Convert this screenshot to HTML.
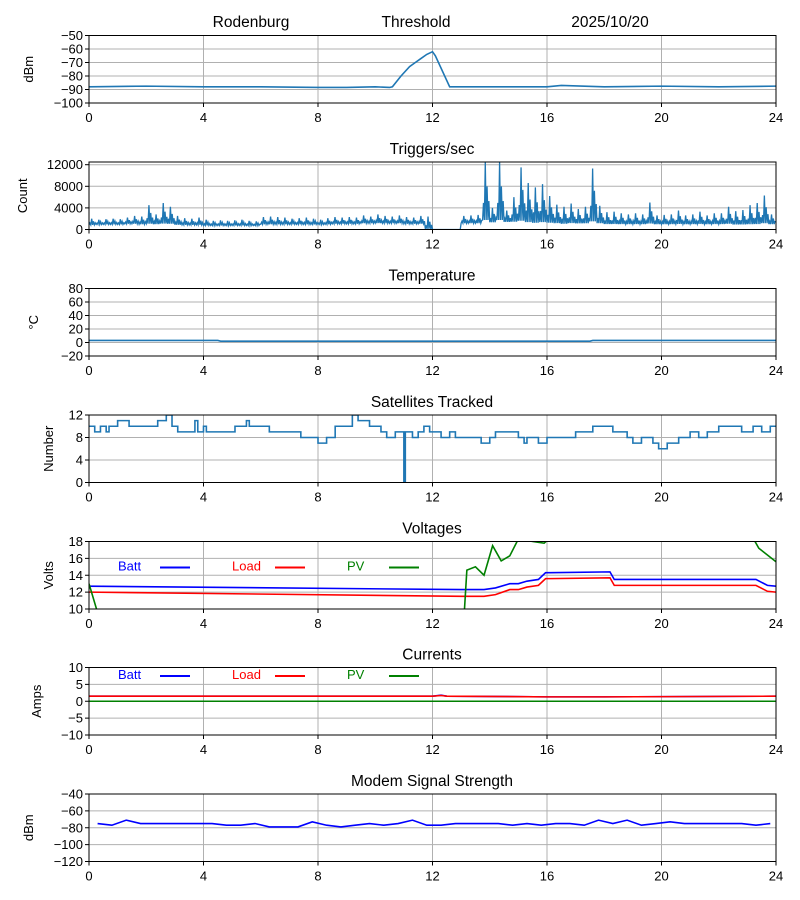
<!DOCTYPE html>
<html><head><meta charset="utf-8">
<style>
body{margin:0;background:#fff;}
svg{display:block;font-family:"Liberation Sans",sans-serif;}
</style></head>
<body>
<svg id="c" width="800" height="900"></svg>
<script>
// ---- data ----
const threshT=[0,2,4,6,8,9,10,10.5,10.6,10.9,11.2,11.4,11.6,11.8,12.0,12.1,12.6,14,16,16.5,18,20,22,24];
const threshV=[-88,-87.5,-88,-88,-88.5,-88.5,-88,-88.5,-88,-80,-73,-70,-67,-64,-62,-65,-88,-88,-88,-87,-88,-87.5,-88,-87.5];
const trigHi=[2000,1800,1900,2000,1900,2200,2500,2400,4500,2800,4900,4200,2500,2100,2000,2200,1800,1600,1700,1600,1700,1800,1600,1500,2300,2400,2300,2200,2000,2100,2200,2000,1800,2100,2300,2200,2300,2200,2600,2400,2800,2500,2400,2600,2300,2200,2500,2400,0,0,0,0,2500,2600,2700,12500,4000,12500,3500,6000,11500,8600,7800,8400,6200,4600,4200,4800,3800,4200,11300,4400,3200,3300,3000,2800,3000,2800,5000,2600,2700,2800,3500,2600,2800,3300,2600,3000,3000,4200,3400,3600,4500,4900,6300,2800];
const trigLo=[800,900,900,900,900,1000,1000,900,900,900,900,900,800,800,800,800,700,700,700,700,700,700,700,700,900,900,900,900,900,900,900,900,900,900,1000,1000,1000,1000,1100,1100,1100,1100,1100,1100,1000,1000,1000,0,0,0,0,0,1100,1100,1100,1200,1200,1200,1300,1200,1100,1000,900,1000,1000,1000,900,1000,1000,1000,1000,1000,900,900,900,900,900,900,900,900,900,900,900,900,900,900,900,900,900,900,800,800,800,800,900,900];
const tempT=[0,4.5,4.6,17.5,17.6,24];
const tempV=[3,3,2,2,3,3];
const satT=[0,0.2,0.4,0.6,0.7,1.0,1.4,2.4,2.7,2.9,3.1,3.7,3.8,4.0,4.1,5.1,5.5,5.6,6.3,7.3,7.4,8.0,8.3,8.6,9.2,9.4,9.8,10.2,10.4,10.7,11.0,11.05,11.3,11.5,11.7,11.9,12.3,12.6,12.8,13.7,14.0,14.2,15.0,15.2,15.3,15.7,16.0,16.8,17.0,17.6,18.3,18.8,19.0,19.3,19.7,19.9,20.2,20.6,21.0,21.3,21.6,22.0,22.8,23.2,23.5,23.8,24];
const satV=[10,9,10,9,10,11,10,11,12,10,9,11,9,10,9,10,11,10,9,9,8,7,8,10,12,11,10,9,8,9,0,9,8,9,10,9,8,9,8,7,8,9,8,7,8,7,8,8,9,10,9,8,7,8,7,6,7,8,9,8,9,10,9,10,9,10,10];
const voltT=[0,13,13.8,14.2,14.7,15.0,15.3,15.7,15.95,16.1,18.2,18.35,23.3,23.7,24];
const battV=[12.7,12.3,12.3,12.5,13.0,13.0,13.3,13.5,14.3,14.3,14.4,13.5,13.5,12.8,12.7];
const loadV=[12.0,11.5,11.5,11.7,12.3,12.3,12.6,12.8,13.6,13.6,13.7,12.8,12.8,12.1,12.0];
const pvT=[0,0.35,13.1,13.2,13.5,13.8,14.1,14.4,14.7,15.0,15.5,15.9,16.1,23.2,23.4,24];
const pvV=[13,9,9,14.6,15.0,14.0,17.5,15.7,16.3,18.3,18.0,17.8,18.4,18.4,17.2,15.6];
const curT=[0,12,12.3,12.5,16,18,24];
const battA=[1.5,1.5,1.8,1.5,1.3,1.3,1.5];
const loadA=[1.5,1.5,1.7,1.5,1.3,1.3,1.5];
const pvA=[0,0,0,0,0,0,0];
const modemV=[-75,-77,-71,-75,-75,-75,-75,-75,-75,-77,-77,-75,-79,-79,-79,-73,-77,-79,-77,-75,-77,-75,-71,-77,-77,-75,-75,-75,-75,-77,-75,-77,-75,-75,-77,-71,-75,-71,-77,-75,-73,-75,-75,-75,-75,-75,-77,-75];

// ---- drawing ----
const NS="http://www.w3.org/2000/svg";
const svg=document.getElementById('c');
function el(tag,attrs,parent){const e=document.createElementNS(NS,tag);for(const k in attrs)e.setAttribute(k,attrs[k]);(parent||svg).appendChild(e);return e;}
const fmt=v=>String(v).replace('-','\u2212');
const L=89,R=776,H=67.5;
function sx(t){return L+(R-L)*t/24;}
function panel(name,top,ymin,ymax,yticks,ylabel,title,ylx){
  const g=el('g',{});
  
  
  const sy=v=>top+H-(v-ymin)/(ymax-ymin)*H;
  for(let t=0;t<=24;t+=4){
    const l=el('line',{x1:sx(t),x2:sx(t),y1:top,y2:top+H,stroke:'#b0b0b0','stroke-width':1},g);
    
    el('line',{x1:sx(t),x2:sx(t),y1:top+H,y2:top+H+4,stroke:'#000'},g);
    const tx=el('text',{x:sx(t),y:top+H+19,'text-anchor':'middle','font-size':13},g);tx.textContent=t;
    
  }
  yticks.forEach(v=>{
    const y=sy(v);
    el('line',{x1:L,x2:R,y1:y,y2:y,stroke:'#b0b0b0'},g);
    el('line',{x1:L-4,x2:L,y1:y,y2:y,stroke:'#000'},g);
    const tx=el('text',{x:L-6,y:y+4.5,'text-anchor':'end','font-size':13},g);tx.textContent=fmt(v);
    
  });
  const yl=el('text',{x:0,y:0,'text-anchor':'middle','font-size':13,transform:`translate(${ylx},${top+H/2}) rotate(-90)`},g);
  yl.textContent=ylabel;
  
  if(title){const tt=el('text',{x:432,y:top-8,'text-anchor':'middle','font-size':15.5},g);tt.textContent=title;
    }
  const clip=el('clipPath',{id:'cl'+name},g);el('rect',{x:L,y:top,width:R-L,height:H},clip);
  const plot=el('g',{'clip-path':`url(#cl${name})`},g);
  el('rect',{x:L,y:top,width:R-L,height:H,fill:'none',stroke:'#000'},g);
  return {g,plot,sy};
}
function line(p,ts,vs,color,name,step,w){
  let pts=[];
  for(let i=0;i<ts.length;i++){
    if(step&&i>0)pts.push(sx(ts[i])+','+p.sy(vs[i-1]));
    pts.push(sx(ts[i])+','+p.sy(vs[i]));
  }
  const pl=el('polyline',{points:pts.join(' '),fill:'none',stroke:color,'stroke-width':w||1.6},p.plot);
  
}
function legend(top){
  [['Batt','blue',118,160],['Load','red',232,275],['PV','green',347,389]].forEach(([n,c,tx,lx])=>{
    const t=el('text',{x:tx,y:top+29,'font-size':13,fill:c});t.textContent=n;
    
    el('line',{x1:lx,x2:lx+30,y1:top+26,y2:top+26,stroke:c,'stroke-width':2});
  });
}
// header
[['Rodenburg',251],['Threshold',416],['2025/10/20',610]].forEach(([s,x],i)=>{
  const t=el('text',{x:x,y:27,'text-anchor':'middle','font-size':15.5});t.textContent=s;
  
});
let p=panel('threshold',35.5,-100,-50,[-100,-90,-80,-70,-60,-50],'dBm',null,33);
line(p,threshT,threshV,'#1f77b4','threshold-line');
p=panel('triggers',162,0,12500,[0,4000,8000,12000],'Count','Triggers/sec',27);
{let ts=[],vs=[];const k=[0.15,0.55,0.3,0.8,0.2,1,0.35,0.6];
for(let i=0;i<trigHi.length;i++){const b=i*0.25;
  for(let j=0;j<8;j++){ts.push(b+j*0.03125);const lo=trigLo[i],hi=trigHi[i];
    const f=(j===3)?1:(j%2?k[j]*0.6:0.05);vs.push(lo+(hi-lo)*f);}}
line(p,ts,vs,'#1f77b4','triggers-line',false,1.3);}
p=panel('temperature',288.5,-20,80,[-20,0,20,40,60,80],'°C','Temperature',38);
line(p,tempT,tempV,'#1f77b4','temperature-line');
p=panel('satellites',415,0,12,[0,4,8,12],'Number','Satellites Tracked',53);
line(p,satT,satV,'#1f77b4','satellites-line',true);
p=panel('voltages',541.5,10,18,[10,12,14,16,18],'Volts','Voltages',53);
line(p,voltT,battV,'blue','batt-voltage-line');line(p,voltT,loadV,'red','load-voltage-line');line(p,pvT,pvV,'green','pv-voltage-line');
legend(541.5);
p=panel('currents',667.5,-10,10,[-10,-5,0,5,10],'Amps','Currents',41);
line(p,curT,battA,'blue','batt-current-line');line(p,curT,loadA,'red','load-current-line');line(p,curT,pvA,'green','pv-current-line');
legend(650);
p=panel('modem',794,-120,-40,[-120,-100,-80,-60,-40],'dBm','Modem Signal Strength',33);
line(p,modemV.map((v,i)=>0.3+i*0.5),modemV,'blue','modem-signal-line');
</script>
</body></html>
